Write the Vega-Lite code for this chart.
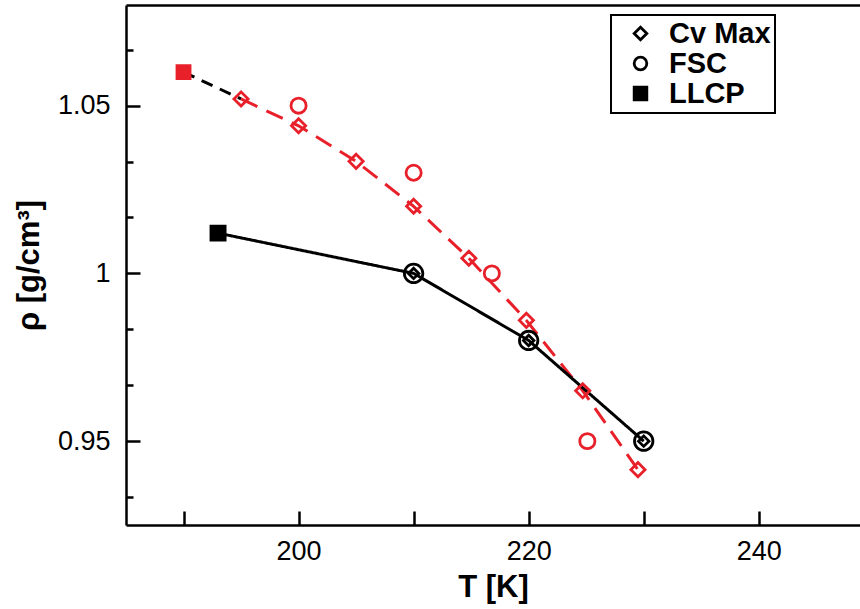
{
  "$schema": "https://vega.github.io/schema/vega-lite/v6.json",
  "width": 734,
  "height": 520,
  "autosize": {"type": "none"},
  "padding": {"left": 126, "top": 5, "right": 0, "bottom": 84},
  "background": "white",
  "config": {
    "view": {"stroke": null},
    "legend": {"strokeWidth": 2},
    "axis": {
      "grid": false,
      "domainColor": "black",
      "domainWidth": 2.5,
      "tickColor": "black",
      "tickWidth": 2.5,
      "labelColor": "black",
      "labelFont": "Liberation Sans",
      "labelFontSize": 27,
      "titleFont": "Liberation Sans",
      "titleFontSize": 31,
      "titleFontWeight": "bold",
      "titleColor": "black",
      "labelOverlap": false,
      "labelFlush": false,
      "labelBound": false
    }
  },
  "datasets": {
    "lines": [
      {"T": 190, "rho": 1.06, "line": "blackDash", "col": "black"},
      {"T": 195, "rho": 1.052, "line": "blackDash", "col": "black"},
      {"T": 195, "rho": 1.052, "line": "redDash", "col": "#e8202a"},
      {"T": 200, "rho": 1.044, "line": "redDash", "col": "#e8202a"},
      {"T": 205, "rho": 1.0334, "line": "redDash", "col": "#e8202a"},
      {"T": 210, "rho": 1.02, "line": "redDash", "col": "#e8202a"},
      {"T": 214.8, "rho": 1.0045, "line": "redDash", "col": "#e8202a"},
      {"T": 219.8, "rho": 0.986, "line": "redDash", "col": "#e8202a"},
      {"T": 224.7, "rho": 0.965, "line": "redDash", "col": "#e8202a"},
      {"T": 229.5, "rho": 0.9415, "line": "redDash", "col": "#e8202a"},
      {"T": 193, "rho": 1.012, "line": "blackSolid", "col": "black"},
      {"T": 210, "rho": 1.0, "line": "blackSolid", "col": "black"},
      {"T": 220, "rho": 0.98, "line": "blackSolid", "col": "black"},
      {"T": 230, "rho": 0.95, "line": "blackSolid", "col": "black"}
    ],
    "pts": [
      {"T": 190, "rho": 1.06, "kind": "LLCP", "col": "#e8202a", "fillc": "#e8202a", "sz": 170},
      {"T": 195, "rho": 1.052, "kind": "Cv Max", "col": "#e8202a", "fillc": "transparent", "sz": 200},
      {"T": 200, "rho": 1.044, "kind": "Cv Max", "col": "#e8202a", "fillc": "transparent", "sz": 200},
      {"T": 205, "rho": 1.0334, "kind": "Cv Max", "col": "#e8202a", "fillc": "transparent", "sz": 200},
      {"T": 210, "rho": 1.02, "kind": "Cv Max", "col": "#e8202a", "fillc": "transparent", "sz": 200},
      {"T": 214.8, "rho": 1.0045, "kind": "Cv Max", "col": "#e8202a", "fillc": "transparent", "sz": 200},
      {"T": 219.8, "rho": 0.986, "kind": "Cv Max", "col": "#e8202a", "fillc": "transparent", "sz": 200},
      {"T": 224.7, "rho": 0.965, "kind": "Cv Max", "col": "#e8202a", "fillc": "transparent", "sz": 200},
      {"T": 229.5, "rho": 0.9415, "kind": "Cv Max", "col": "#e8202a", "fillc": "transparent", "sz": 200},
      {"T": 200, "rho": 1.05, "kind": "FSC", "col": "#e8202a", "fillc": "transparent", "sz": 230},
      {"T": 210, "rho": 1.03, "kind": "FSC", "col": "#e8202a", "fillc": "transparent", "sz": 230},
      {"T": 216.8, "rho": 1.0, "kind": "FSC", "col": "#e8202a", "fillc": "transparent", "sz": 230},
      {"T": 225.1, "rho": 0.95, "kind": "FSC", "col": "#e8202a", "fillc": "transparent", "sz": 230},
      {"T": 193, "rho": 1.012, "kind": "LLCP", "col": "black", "fillc": "black", "sz": 200},
      {"T": 210, "rho": 1.0, "kind": "FSC", "col": "black", "fillc": "transparent", "sz": 340},
      {"T": 220, "rho": 0.98, "kind": "FSC", "col": "black", "fillc": "transparent", "sz": 340},
      {"T": 230, "rho": 0.95, "kind": "FSC", "col": "black", "fillc": "transparent", "sz": 340},
      {"T": 210, "rho": 1.0, "kind": "Cv Max", "col": "black", "fillc": "transparent", "sz": 110},
      {"T": 220, "rho": 0.98, "kind": "Cv Max", "col": "black", "fillc": "transparent", "sz": 110},
      {"T": 230, "rho": 0.95, "kind": "Cv Max", "col": "black", "fillc": "transparent", "sz": 110}
    ]
  },
  "layer": [
    {
      "data": {"name": "lines"},
      "mark": {"type": "line", "strokeWidth": 3},
      "encoding": {
        "x": {
          "field": "T", "type": "quantitative",
          "scale": {"domain": [185, 248.8], "nice": false, "zero": false},
          "axis": {"orient": "top", "labels": false, "ticks": false, "title": null}
        },
        "y": {
          "field": "rho", "type": "quantitative",
          "scale": {"domain": [0.925, 1.08], "nice": false, "zero": false},
          "axis": {
            "orient": "left",
            "values": [0.933333, 0.95, 0.966667, 0.983333, 1.0, 1.016667, 1.033333, 1.05, 1.066667],
            "labelExpr": "abs(datum.value*20 - round(datum.value*20)) < 0.001 ? format(datum.value, '~g') : ''",
            "tickSize": {"condition": {"test": "abs(datum.value*20 - round(datum.value*20)) < 0.001", "value": -14}, "value": -7},
            "labelPadding": 30,
            "title": "ρ [g/cm³]",
            "titlePadding": 12
          }
        },
        "detail": {"field": "line"},
        "stroke": {"field": "col", "type": "nominal", "scale": null},
        "strokeDash": {
          "field": "line", "type": "nominal",
          "scale": {"domain": ["blackDash", "redDash", "blackSolid"], "range": [[12, 8], [18, 10], [1, 0]]},
          "legend": null
        }
      }
    },
    {
      "data": {"name": "pts"},
      "mark": {"type": "point", "strokeWidth": 2.8, "opacity": 1, "fillOpacity": 1},
      "encoding": {
        "x": {
          "field": "T", "type": "quantitative",
          "scale": {"domain": [185, 248.8], "nice": false, "zero": false},
          "axis": {
            "orient": "bottom",
            "values": [190, 200, 210, 220, 230, 240],
            "labelExpr": "datum.value % 20 == 0 ? datum.label : ''",
            "tickSize": -14,
            "labelPadding": 27,
            "title": "T [K]",
            "titlePadding": 8
          }
        },
        "y": {
          "field": "rho", "type": "quantitative",
          "scale": {"domain": [0.925, 1.08], "nice": false, "zero": false},
          "axis": {
            "orient": "left",
            "values": [0.933333, 0.95, 0.966667, 0.983333, 1.0, 1.016667, 1.033333, 1.05, 1.066667],
            "labelExpr": "abs(datum.value*20 - round(datum.value*20)) < 0.001 ? format(datum.value, '~g') : ''",
            "tickSize": {"condition": {"test": "abs(datum.value*20 - round(datum.value*20)) < 0.001", "value": -14}, "value": -7},
            "labelPadding": 30,
            "title": "ρ [g/cm³]",
            "titlePadding": 12
          }
        },
        "shape": {
          "field": "kind", "type": "nominal",
          "scale": {"domain": ["Cv Max", "FSC", "LLCP"], "range": ["diamond", "circle", "M-1,-1H1V1H-1Z M-0.7,-0.7H0.7V0.7H-0.7Z M-0.4,-0.4H0.4V0.4H-0.4Z M-0.1,-0.1H0.1V0.1H-0.1Z"]},
          "legend": {
            "orient": "none",
            "legendX": 485,
            "legendY": 10,
            "title": null,
            "strokeColor": "black",
            "fillColor": "white",
            "padding": 4,
            "symbolOffset": 11,
            "labelFont": "Liberation Sans",
            "labelFontSize": 29,
            "labelFontWeight": "bold",
            "labelColor": "black",
            "labelOffset": 14,
            "labelExpr": "datum.label + '\u00a0\u00a0\u00a0'",
            "rowPadding": 0,
            "symbolSize": 160,
            "symbolStrokeWidth": 2.8,
            "symbolStrokeColor": "black",
            "symbolFillColor": "transparent"
          }
        },
        "stroke": {"field": "col", "type": "nominal", "scale": null},
        "fill": {"field": "fillc", "type": "nominal", "scale": null},
        "size": {"field": "sz", "type": "quantitative", "scale": null}
      }
    }
  ]
}
